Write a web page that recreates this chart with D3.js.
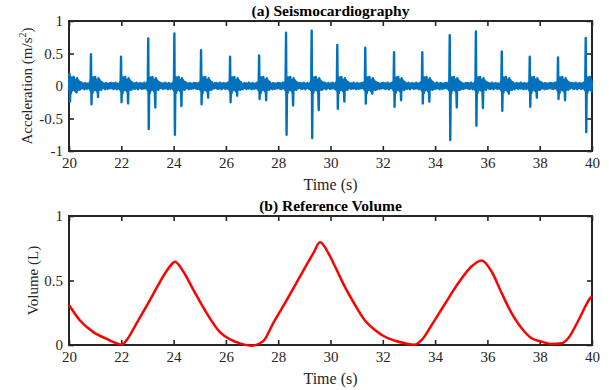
<!DOCTYPE html>
<html>
<head>
<meta charset="utf-8">
<script src="https://cdn.jsdelivr.net/npm/d3@7"></script>
<style>
  html, body { margin: 0; padding: 0; background: #fff; }
  svg { display: block; }
  svg text { font-family: "Liberation Serif", "Times New Roman", serif; fill: #262626; }
</style>
</head>
<body>
<script>
// ---- Panel (a): seismocardiography beats ----
const beatTimes   = [20.02, 20.84, 21.99, 23.03, 24.03, 25.05, 26.16, 27.27, 28.30, 29.28, 30.26, 31.33, 32.43, 33.51, 34.56, 35.56, 36.55, 37.62, 38.70, 39.76];
const beatPeaks   = [0.19, 0.49, 0.45, 0.73, 0.81, 0.55, 0.45, 0.47, 0.82, 0.85, 0.63, 0.59, 0.52, 0.52, 0.78, 0.84, 0.53, 0.45, 0.44, 0.74];
const beatTroughs = [-0.24, -0.28, -0.25, -0.66, -0.75, -0.28, -0.25, -0.20, -0.75, -0.80, -0.35, -0.27, -0.32, -0.27, -0.83, -0.61, -0.38, -0.32, -0.20, -0.71];
const beatEchoes  = [-0.10, -0.17, -0.27, -0.33, -0.31, -0.18, -0.15, -0.22, -0.30, -0.37, -0.24, -0.12, -0.22, -0.24, -0.33, -0.34, -0.12, -0.18, -0.22, -0.15];

// Shape of one heartbeat: [offset (s), value]; 'P', 'T', 'E' take the beat's own peak, trough and echo.
const beatShape = [
  [-0.06, -0.04], [-0.04, 0.06], [-0.02, -0.07],
  [0.00, 'P'], [0.02, 'T'],
  [0.04, 0.09], [0.06, -0.11], [0.08, 0.13], [0.10, -0.07], [0.12, 0.11], [0.14, -0.05],
  [0.16, 0.14], [0.18, -0.06], [0.20, 0.10], [0.22, -0.08], [0.24, 0.08],
  [0.27, 'E'], [0.29, 0.12], [0.31, -0.06], [0.33, 0.09], [0.35, -0.05], [0.37, 0.07],
  [0.39, -0.06], [0.41, 0.06]
];

// Baseline ripple between beats (m/s^2), sampled every 20 ms.
const ripple = [0.035, -0.025, 0.045, -0.04, 0.015, 0.04, -0.045, 0.025, -0.015, 0.05,
                -0.035, 0.02, -0.05, 0.035, 0.0, -0.03, 0.045, -0.02, 0.03, -0.045,
                0.04, -0.01, 0.025, -0.04, 0.05, -0.025, 0.015, -0.035, 0.035, -0.05,
                0.02, 0.045, -0.03, 0.01, -0.045, 0.035, -0.015, 0.03, -0.035, 0.045];

// ---- Panel (b): reference volume ----
const volTime = [20.00, 20.42, 20.93, 21.44, 21.82, 22.02, 22.21, 22.59, 23.10, 23.48, 23.86, 24.05,
                 24.37, 24.75, 25.27, 25.77, 26.16, 26.54, 26.99, 27.43, 27.81, 28.33, 28.83, 29.34,
                 29.60, 29.95, 30.17, 30.55, 30.94, 31.32, 31.70, 32.08, 32.47, 32.85, 33.20, 33.49,
                 33.87, 34.38, 34.89, 35.40, 35.78, 36.16, 36.55, 36.93, 37.31, 37.69, 38.07, 38.46,
                 38.84, 39.09, 39.48, 39.92, 40.00];
const volValue = [0.31, 0.19, 0.10, 0.047, 0.013, 0.004, 0.04, 0.17, 0.35, 0.49, 0.61, 0.646,
                  0.57, 0.43, 0.245, 0.10, 0.044, 0.013, -0.005, 0.03, 0.17, 0.35, 0.53, 0.71,
                  0.796, 0.70, 0.61, 0.45, 0.31, 0.19, 0.116, 0.064, 0.033, 0.013, 0.002, 0.04,
                  0.155, 0.32, 0.48, 0.61, 0.655, 0.57, 0.40, 0.245, 0.13, 0.052, 0.026, 0.008,
                  0.013, 0.052, 0.19, 0.36, 0.38];

// ---- Axis ticks and labels ----
const xTicks = [20, 22, 24, 26, 28, 30, 32, 34, 36, 38, 40];
const yTicksA = [-1, -0.5, 0, 0.5, 1];
const yTicksB = [0, 0.5, 1];
const titleA = "(a) Seismocardiography";
const titleB = "(b) Reference Volume";
const xLabel = "Time (s)";
const yLabelB = "Volume (L)";

const SERIF = "Liberation Serif, Times New Roman, serif";

// Assemble the SCG trace: beat shapes at their times, ripple elsewhere.
function buildScg() {
  const pts = [];
  beatTimes.forEach((tb, i) => {
    beatShape.forEach(([dt, v]) => {
      const val = v === 'P' ? beatPeaks[i] : v === 'T' ? beatTroughs[i] : v === 'E' ? beatEchoes[i] : v;
      const t = tb + dt;
      if (t >= 20 && t <= 40) pts.push([t, val]);
    });
  });
  const n = Math.round((40 - 20) / 0.02);
  for (let k = 0; k <= n; k++) {
    const t = 20 + k * 0.02;
    const near = beatTimes.some(tb => t > tb - 0.07 && t < tb + 0.42);
    if (!near) pts.push([t, ripple[k % ripple.length]]);
  }
  pts.sort((a, b) => a[0] - b[0]);
  return pts;
}

const W = 609, H = 390;
const left = 69, right = 592;
const svg = d3.select("body").append("svg").attr("width", W).attr("height", H);

const x = d3.scaleLinear().domain([20, 40]).range([left, right]);
const axisColor = "#262626";
const tickLen = 5;

function drawPanel(top, bottom, yDomain, yTicks, title, yLabelNode) {
  const y = d3.scaleLinear().domain(yDomain).range([bottom, top]);
  const g = svg.append("g");
  const fmt = d => String(d);

  const ax = (gen, tx, ty, labels) => {
    const a = g.append("g").attr("transform", `translate(${tx},${ty})`)
      .call(gen.tickSizeInner(-tickLen).tickSizeOuter(0).tickPadding(labels ? 6 : 0)
               .tickFormat(labels ? fmt : ""));
    a.attr("font-family", SERIF).attr("font-size", 15);
    a.select(".domain").remove();
    a.selectAll(".tick line").attr("stroke", axisColor).attr("stroke-width", 1.6);
    a.selectAll(".tick text").attr("font-family", SERIF).attr("font-size", 15)
      .style("font-family", SERIF).attr("fill", axisColor);
    return a;
  };
  ax(d3.axisBottom(x).tickValues(xTicks), 0, bottom, true);
  ax(d3.axisTop(x).tickValues(xTicks), 0, top, false);
  ax(d3.axisLeft(y).tickValues(yTicks), left, 0, true);
  ax(d3.axisRight(y).tickValues(yTicks), right, 0, false);

  g.append("rect").attr("x", left).attr("y", top).attr("width", right - left).attr("height", bottom - top)
    .attr("fill", "none").attr("stroke", axisColor).attr("stroke-width", 2);

  g.append("text").attr("x", (left + right) / 2).attr("y", top - 5).attr("text-anchor", "middle")
    .style("font-size", "15.5px").style("font-weight", "bold").style("fill", "#000").text(title);

  g.append("text").attr("x", (left + right) / 2).attr("y", bottom + 39).attr("text-anchor", "middle")
    .style("font-size", "16px").text(xLabel);

  yLabelNode(g, (top + bottom) / 2);
  return { g, y };
}

// Panel (a)
const pa = drawPanel(21, 151, [-1, 1], yTicksA, titleA, (g, cy) => {
  const t = g.append("text").attr("transform", `translate(32,${cy}) rotate(-90)`)
    .attr("text-anchor", "middle").style("font-size", "15px");
  t.append("tspan").text("Acceleration (m/s");
  t.append("tspan").attr("dy", -6).style("font-size", "10px").text("2");
  t.append("tspan").attr("dy", 6).text(")");
});
const scg = buildScg();
pa.g.append("path").datum(scg)
  .attr("fill", "none").attr("stroke", "#0072BD").attr("stroke-width", 2.4).attr("stroke-linejoin", "round")
  .attr("d", d3.line().x(d => x(d[0])).y(d => pa.y(d[1])));

// Panel (b)
const pb = drawPanel(216, 345, [0, 1], yTicksB, titleB, (g, cy) => {
  g.append("text").attr("transform", `translate(38,${cy}) rotate(-90)`)
    .attr("text-anchor", "middle").style("font-size", "15px").text(yLabelB);
});
pb.g.append("path").datum(volTime.map((t, i) => [t, volValue[i]]))
  .attr("fill", "none").attr("stroke", "#FF0000").attr("stroke-width", 2.5).attr("stroke-linejoin", "round")
  .attr("d", d3.line().curve(d3.curveMonotoneX).x(d => x(d[0])).y(d => pb.y(d[1])));
</script>
</body>
</html>
